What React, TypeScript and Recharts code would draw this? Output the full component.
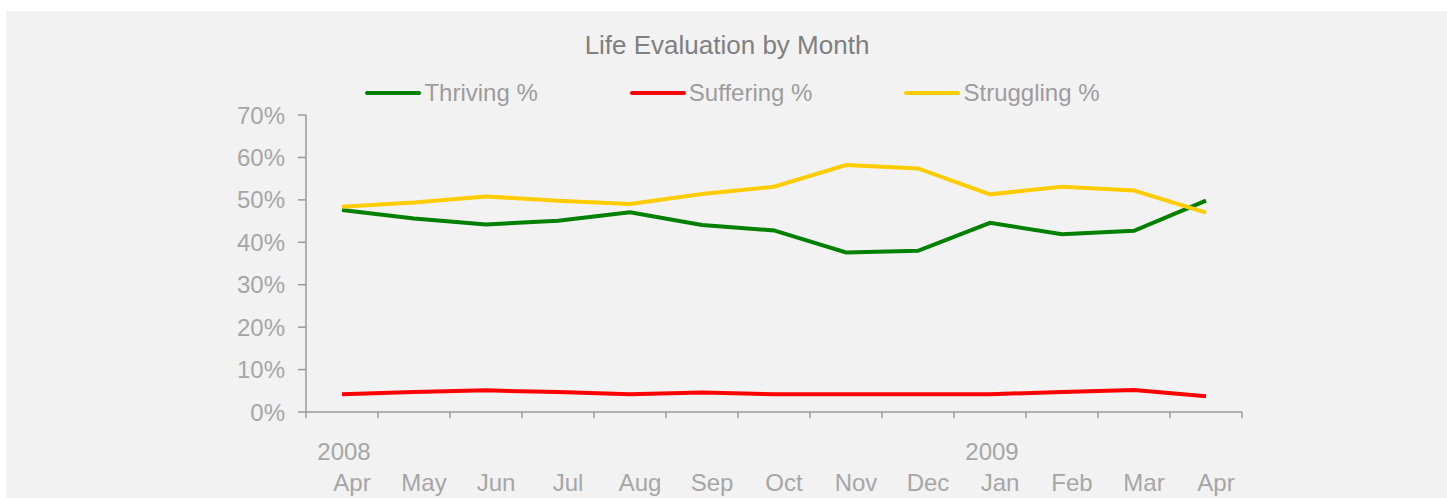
import { LineChart, Line, XAxis, YAxis } from 'recharts';

// Gallup-style life evaluation, Apr 2008 – Apr 2009
const periods = [
  '2008-04', '2008-05', '2008-06', '2008-07', '2008-08', '2008-09', '2008-10',
  '2008-11', '2008-12', '2009-01', '2009-02', '2009-03', '2009-04',
];
const monthLabels = ['Apr', 'May', 'Jun', 'Jul', 'Aug', 'Sep', 'Oct', 'Nov', 'Dec', 'Jan', 'Feb', 'Mar', 'Apr'];
const yearLabels = ['2008', '', '', '', '', '', '', '', '', '2009', '', '', ''];

const thriving = [47.6, 45.6, 44.2, 45.1, 47.1, 44.1, 42.8, 37.6, 38.0, 44.6, 41.9, 42.7, 49.8];
const suffering = [4.2, 4.7, 5.1, 4.7, 4.2, 4.6, 4.2, 4.2, 4.2, 4.2, 4.7, 5.2, 3.7];
const struggling = [48.4, 49.4, 50.8, 49.8, 49.0, 51.4, 53.1, 58.2, 57.4, 51.3, 53.1, 52.2, 47.0];

const yTicks = [0, 10, 20, 30, 40, 50, 60, 70];

const series = [
  { key: 'thriving', name: 'Thriving %', color: '#008000' },
  { key: 'suffering', name: 'Suffering %', color: '#ff0000' },
  { key: 'struggling', name: 'Struggling %', color: '#ffcc00' },
];

const data = periods.map((p, i) => ({
  period: p,
  thriving: thriving[i],
  suffering: suffering[i],
  struggling: struggling[i],
}));

const FONT = '"Liberation Sans", Arial, Helvetica, sans-serif';
const AXIS = '#9a9a9a';
const LABEL = '#a6a6a6';

const W = 1441;
const H = 487;
const margin = { top: 104, right: 205, left: 240, bottom: 6 };
const plotWidth = W - margin.left - margin.right - 60;
const band = plotWidth / periods.length;

// Excel-style axis: tick marks between categories, month + year labels underneath
function MonthTick(props: any) {
  const { x, y, index } = props;
  const i = index ?? props.payload?.index ?? 0;
  const left = x - band / 2;
  return (
    <g>
      <line x1={left} x2={left} y1={y} y2={y + 6} stroke={AXIS} strokeWidth={1.5} />
      {i === periods.length - 1 && (
        <line x1={x + band / 2} x2={x + band / 2} y1={y} y2={y + 6} stroke={AXIS} strokeWidth={1.5} />
      )}
      {yearLabels[i] && (
        <text x={x + 2} y={y + 48} textAnchor="middle" fill={LABEL} fontSize={24} fontFamily={FONT}>
          {yearLabels[i]}
        </text>
      )}
      <text x={x + 10} y={y + 79} textAnchor="middle" fill={LABEL} fontSize={24} fontFamily={FONT}>
        {monthLabels[i]}
      </text>
    </g>
  );
}

export default function App() {
  return (
    <div style={{ position: 'absolute', left: 6, top: 11, width: W, height: H, background: '#f2f2f2' }}>
      <svg width={W} height={70} style={{ position: 'absolute', left: 0, top: 0 }}>
        <text x={721} y={43} textAnchor="middle" fill="#808080" fontSize={26} fontFamily={FONT}>
          Life Evaluation by Month
        </text>
      </svg>
      <div
        style={{
          position: 'absolute',
          top: 66,
          left: 0,
          width: W,
          paddingLeft: 12,
          boxSizing: 'border-box',
          display: 'flex',
          justifyContent: 'center',
          gap: 92,
          fontFamily: FONT,
          fontSize: 24,
          color: '#9c9c9c',
          lineHeight: '32px',
        }}
      >
        {series.map((s) => (
          <div key={s.key} style={{ display: 'flex', alignItems: 'center' }}>
            <svg width={56} height={8} style={{ marginRight: 3 }}>
              <line x1={2} x2={54} y1={4} y2={4} stroke={s.color} strokeWidth={4} strokeLinecap="round" />
            </svg>
            <span>{s.name}</span>
          </div>
        ))}
      </div>
      <LineChart width={W} height={H} data={data} margin={margin} style={{ fontFamily: FONT }}>
        <XAxis
          dataKey="period"
          scale="band"
          height={80}
          axisLine={{ stroke: AXIS, strokeWidth: 1.5 }}
          tickLine={false}
          tickSize={0}
          tickMargin={0}
          interval={0}
          tick={<MonthTick />}
        />
        <YAxis
          width={60}
          domain={[0, 70]}
          ticks={yTicks}
          tickFormatter={(v: number) => `${v}%`}
          axisLine={{ stroke: AXIS, strokeWidth: 1.5 }}
          tickLine={{ stroke: AXIS, strokeWidth: 1.5 }}
          tickSize={8}
          tickMargin={13}
          tick={{ fill: LABEL, fontSize: 24, fontFamily: FONT }}
        />
        {series.map((s) => (
          <Line
            key={s.key}
            type="linear"
            dataKey={s.key}
            name={s.name}
            stroke={s.color}
            strokeWidth={4}
            dot={false}
            activeDot={false}
            isAnimationActive={false}
          />
        ))}
      </LineChart>
    </div>
  );
}
